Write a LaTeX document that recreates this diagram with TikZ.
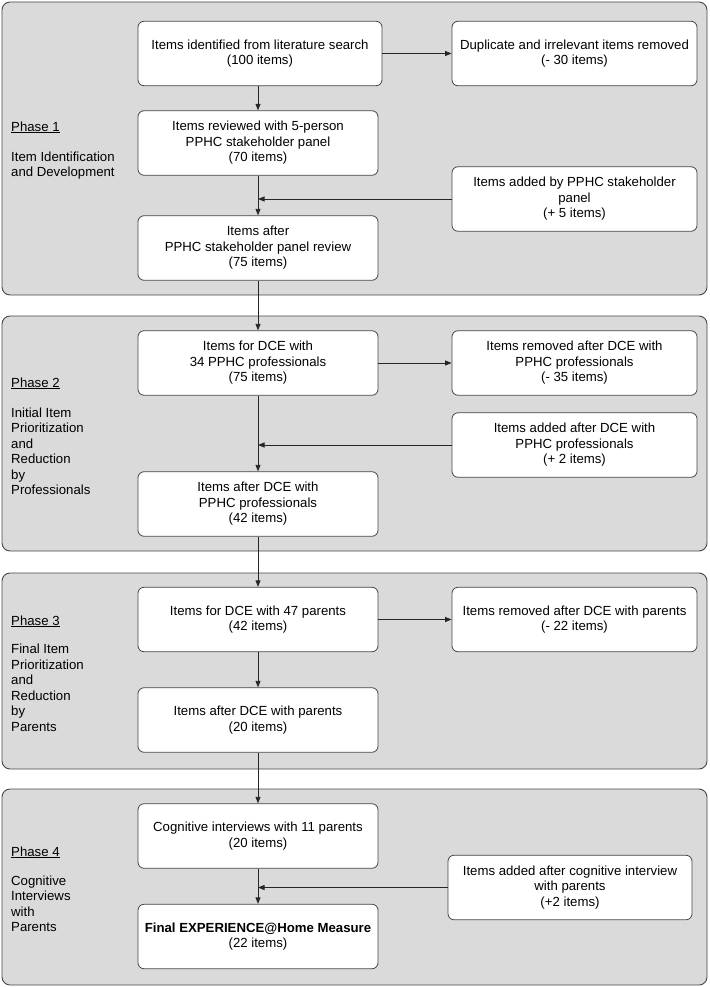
\documentclass[tikz,border=0pt]{standalone}
\usepackage{fontspec}
\setmainfont{Liberation Sans}
\usetikzlibrary{arrows.meta}
\definecolor{panelgray}{RGB}{218,218,218}
\definecolor{edgegray}{RGB}{70,70,70}
\tikzset{
  panel/.style={draw=edgegray, line width=0.9pt, fill=panelgray, rounded corners=8pt},
  itembox/.style={draw=edgegray, line width=0.8pt, fill=white, rounded corners=6pt,
    inner sep=0pt, align=center, minimum height=64.5pt,
    font=\fontsize{13.2}{15.5}\selectfont},
  leftbox/.style={itembox, minimum width=240pt},
  rightbox/.style={itembox, minimum width=245pt},
  phaselabel/.style={anchor=north west, align=left, inner sep=0pt,
    font=\fontsize{13.2}{15.5}\selectfont},
  flow/.style={draw=black!85, line width=0.8pt, -{Triangle[length=6.5pt,width=5pt]}}
}
\begin{document}
\begin{tikzpicture}[x=1pt,y=-1pt]
\useasboundingbox (0,0) rectangle (709,987);
% panels
\draw[panel] (2,2) rectangle (707,295);
\draw[panel] (2,316) rectangle (707,551);
\draw[panel] (2,573) rectangle (707,769);
\draw[panel] (2,789) rectangle (707,985);

% phase labels
\node[phaselabel] (ph1) at (11,121.3) {\underline{Phase 1}\\[14.5pt]Item Identification\\and Development};
\node[phaselabel] (ph2) at (11,377.3) {\underline{Phase 2}\\[14.5pt]Initial Item\\Prioritization\\and\\Reduction\\by\\Professionals};
\node[phaselabel] (ph3) at (11,615.3) {\underline{Phase 3}\\[13pt]Final Item\\Prioritization\\and\\Reduction\\by\\Parents};
\node[phaselabel] (ph4) at (11,846.3) {\underline{Phase 4}\\[13.5pt]Cognitive\\Interviews\\with\\Parents};

% Phase 1 boxes
\node[itembox, minimum width=244pt] (A) at (260,53.5) {Items identified from literature search\\(100 items)};
\node[rightbox] (B) at (574.5,53.5) {Duplicate and irrelevant items removed\\(- 30 items)};
\node[leftbox] (C) at (258,143) {Items reviewed with 5-person\\PPHC stakeholder panel\\(70 items)};
\node[rightbox] (D) at (574.5,199) {Items added by PPHC stakeholder\\panel\\(+ 5 items)};
\node[leftbox] (E) at (258,248) {Items after\\PPHC stakeholder panel review\\(75 items)};

% Phase 2 boxes
\node[leftbox] (F) at (258,363) {Items for DCE with\\34 PPHC professionals\\(75 items)};
\node[rightbox] (G) at (574.5,363) {Items removed after DCE with\\PPHC professionals\\(- 35 items)};
\node[rightbox] (H) at (574.5,445) {Items added after DCE with\\PPHC professionals\\(+ 2 items)};
\node[leftbox] (I) at (258,504) {Items after DCE with\\PPHC professionals\\(42 items)};

% Phase 3 boxes
\node[leftbox] (J) at (258,619.5) {Items for DCE with 47 parents\\(42 items)};
\node[rightbox] (K) at (574.5,619.5) {Items removed after DCE with parents\\(- 22 items)};
\node[leftbox] (L) at (258,720) {Items after DCE with parents\\(20 items)};

% Phase 4 boxes
\node[leftbox] (M) at (258,836) {Cognitive interviews with 11 parents\\(20 items)};
\node[itembox, minimum width=244pt] (N) at (570,887.5) {Items added after cognitive interview\\with parents\\(+2 items)};
\node[leftbox] (O) at (258,936.5) {\textbf{Final EXPERIENCE@Home Measure}\\(22 items)};

% connectors
\draw[flow] (A.east) -- (B.west);
\draw[flow] (A.south -| C.north) -- (C.north);
\draw[flow] (C.south) -- (E.north);
\coordinate (d1) at (D.west -| C.south);
\draw[flow] (D.west) -- (d1);

\draw[flow] (E.south) -- (F.north);
\draw[flow] (F.east) -- (G.west);
\draw[flow] (F.south) -- (I.north);
\coordinate (h1) at (H.west -| F.south);
\draw[flow] (H.west) -- (h1);

\draw[flow] (I.south) -- (J.north);
\draw[flow] (J.east) -- (K.west);
\draw[flow] (J.south) -- (L.north);

\draw[flow] (L.south) -- (M.north);
\draw[flow] (M.south) -- (O.north);
\coordinate (n1) at (N.west -| M.south);
\draw[flow] (N.west) -- (n1);
\end{tikzpicture}
\end{document}
